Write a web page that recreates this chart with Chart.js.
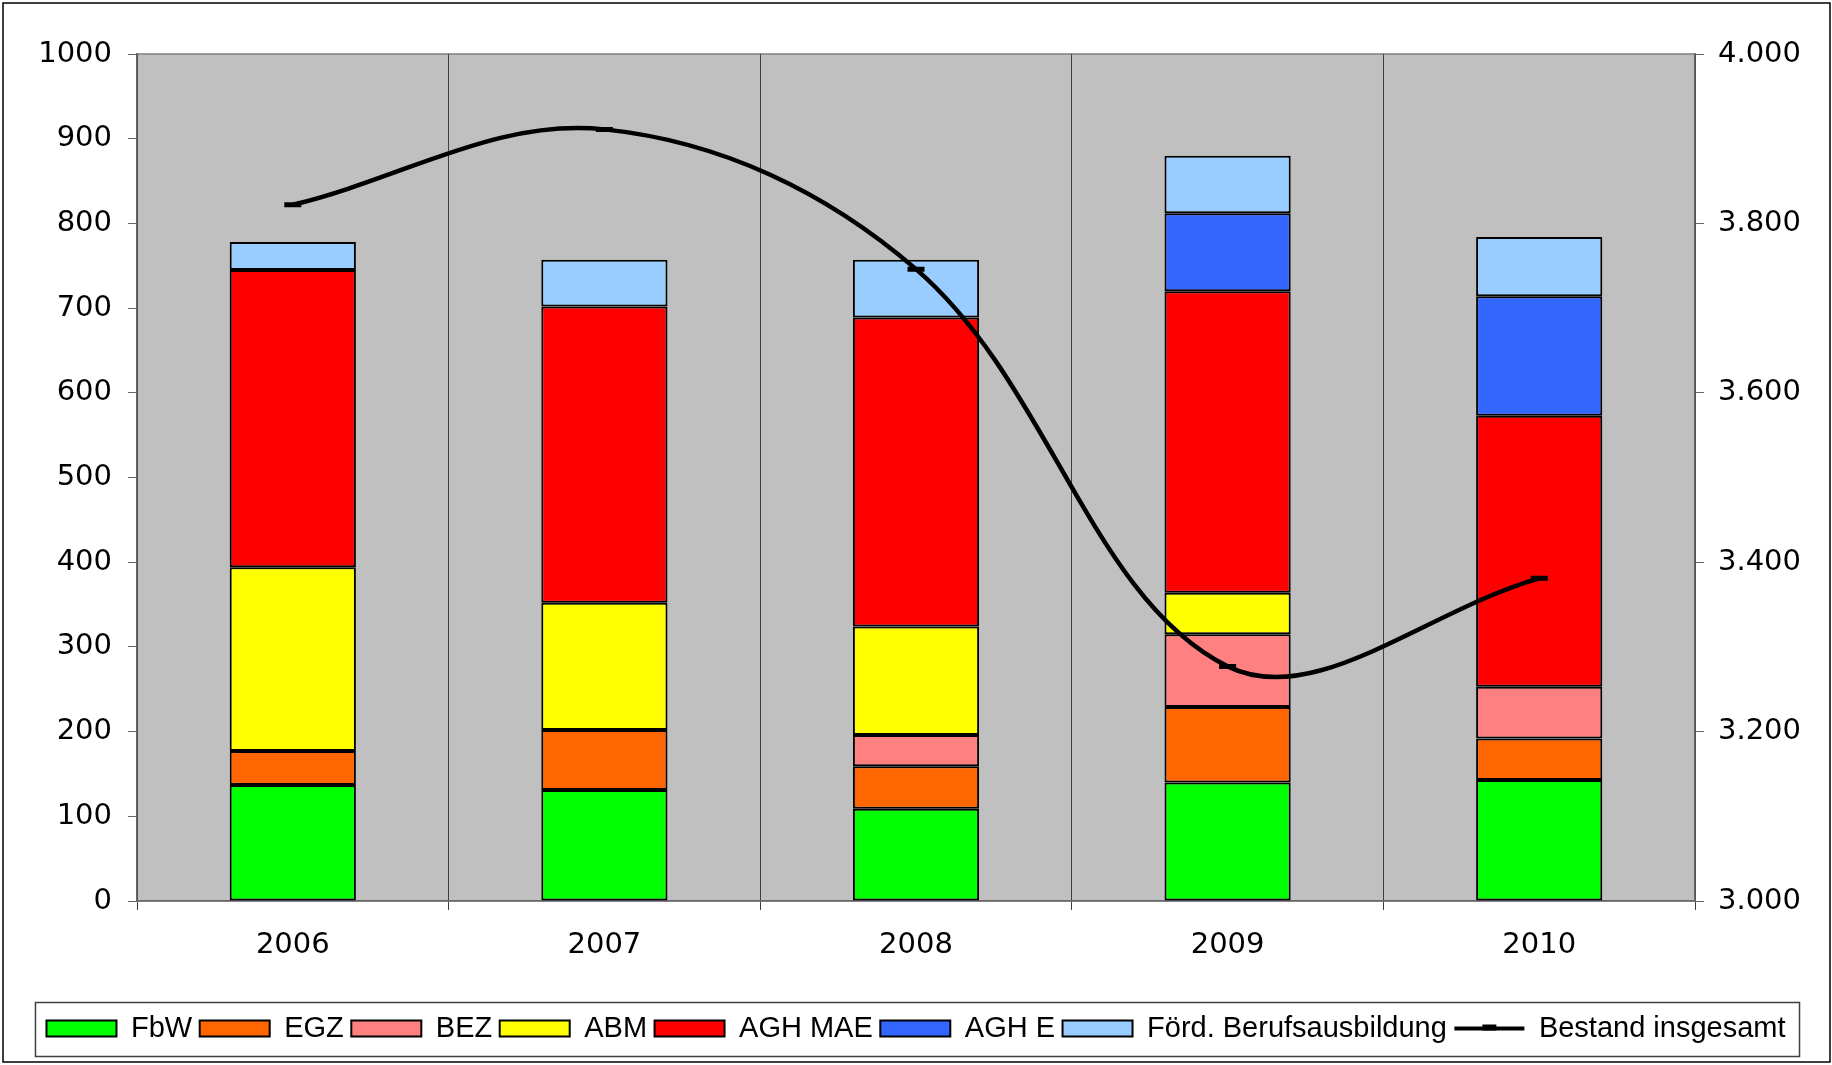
<!DOCTYPE html>
<html>
<head>
<meta charset="utf-8">
<title>Bestand</title>
<script src="https://cdn.jsdelivr.net/npm/chart.js@4/dist/chart.umd.min.js"></script>
<style>
  html, body { margin: 0; padding: 0; background: #fff; }
  canvas { display: block; }
</style>
</head>
<body>
<canvas id="chart" width="1832" height="1065"></canvas>
<script>
// values
var years = ['2006', '2007', '2008', '2009', '2010'];
var fbw = [137, 131, 109, 140, 143];
var egz = [40, 71, 50, 89, 49];
var bez = [0, 0, 37, 86, 61];
var abm = [217, 150, 128, 49, 0];
var aghMae = [351, 350, 365, 356, 320];
var aghE = [0, 0, 0, 92, 141];
var foerd = [33, 55, 68, 68, 70];
var bestand = [3822, 3911, 3746, 3277, 3381];

Chart.defaults.font.family = 'DejaVu Sans';
Chart.defaults.font.size = 29;
Chart.defaults.color = '#000';

function bar(label, data, color) {
  return {
    type: 'bar',
    label: label,
    data: data,
    backgroundColor: color,
    borderColor: '#000',
    borderWidth: 2,
    borderSkipped: false,
    barPercentage: 0.405,
    categoryPercentage: 1,
    yAxisID: 'y',
    order: 1
  };
}

// white page, outer frame, grey plot area, legend frame
var frame = {
  id: 'frame',
  beforeDraw: function (chart) {
    var ctx = chart.ctx, a = chart.chartArea;
    ctx.save();
    ctx.fillStyle = '#fff';
    ctx.fillRect(0, 0, chart.width, chart.height);
    ctx.strokeStyle = '#000';
    ctx.lineWidth = 1.5;
    ctx.strokeRect(3, 3, chart.width - 5, chart.height - 6);
    ctx.fillStyle = '#c0c0c0';
    ctx.fillRect(a.left, a.top, a.right - a.left, a.bottom - a.top);
    ctx.strokeStyle = '#808080';
    ctx.lineWidth = 1.5;
    ctx.strokeRect(a.left, a.top, a.right - a.left, a.bottom - a.top);
    ctx.restore();
  },
  afterDraw: function (chart) {
    var lg = chart.legend, boxes = lg.legendHitBoxes;
    if (!boxes || !boxes.length) return;
    var l = Infinity, r = -Infinity;
    boxes.forEach(function (b) {
      l = Math.min(l, b.left);
      r = Math.max(r, b.left + b.width);
    });
    var cy = boxes[0].top + 14.5;
    var ctx = chart.ctx;
    ctx.save();
    ctx.strokeStyle = '#404040';
    ctx.lineWidth = 1.5;
    ctx.strokeRect(l - 11, cy - 26, r - l + 25, 54);
    // dash marker in the middle of the line symbol
    var last = boxes[boxes.length - 1];
    ctx.strokeStyle = '#000';
    ctx.lineWidth = 6;
    ctx.beginPath();
    ctx.moveTo(last.left + 28, cy - 1);
    ctx.lineTo(last.left + 42, cy - 1);
    ctx.stroke();
    ctx.restore();
  }
};

function dots(v) {
  return String(v).replace(/\B(?=(\d{3})+(?!\d))/g, '.');
}

var ctx = document.getElementById('chart').getContext('2d');
var chart = new Chart(ctx, {
  data: {
    labels: years,
    datasets: [
      bar('FbW', fbw, '#00ff00'),
      bar('EGZ', egz, '#ff6600'),
      bar('BEZ', bez, '#ff8080'),
      bar('ABM', abm, '#ffff00'),
      bar('AGH MAE', aghMae, '#ff0000'),
      bar('AGH E', aghE, '#3366ff'),
      bar('Förd. Berufsausbildung', foerd, '#99ccff'),
      {
        type: 'line',
        label: 'Bestand insgesamt',
        data: bestand,
        yAxisID: 'y1',
        borderColor: '#000',
        backgroundColor: '#000',
        borderWidth: 4.5,
        tension: 0.36,
        pointStyle: 'line',
        pointRadius: 8.5,
        pointBorderWidth: 5,
        pointBorderColor: '#000',
        fill: false,
        order: 0
      }
    ]
  },
  options: {
    responsive: false,
    animation: false,
    devicePixelRatio: 1,
    layout: { padding: { top: 54, left: 0, right: 0, bottom: 12 } },
    plugins: {
      tooltip: { enabled: false },
      legend: {
        position: 'bottom',
        labels: {
          usePointStyle: true,
          pointStyleWidth: 70,
          boxHeight: 16,
          padding: 7.5,
          color: '#000',
          font: { family: 'Liberation Sans', size: 29 },
          sort: function (a, b) { return a.datasetIndex - b.datasetIndex; },
          generateLabels: function (chart) {
            var items = Chart.defaults.plugins.legend.labels.generateLabels(chart);
            items.forEach(function (it) {
              var ds = chart.data.datasets[it.datasetIndex];
              it.pointStyle = ds.type === 'line' ? 'line' : 'rect';
              it.lineWidth = ds.type === 'line' ? 4 : 2;
            });
            return items;
          }
        }
      }
    },
    scales: {
      x: {
        stacked: true,
        offset: true,
        grid: { offset: true, color: '#404040', lineWidth: 1, tickLength: 9, drawOnChartArea: true },
        border: { color: '#666', width: 1.5 },
        ticks: { padding: 18, font: { size: 29 }, color: '#000' },
        afterFit: function (s) { s.height = 105.5; }
      },
      y: {
        stacked: true,
        position: 'left',
        min: 0,
        max: 1000,
        grid: { drawOnChartArea: false, color: '#666', tickLength: 9 },
        border: { color: '#666', width: 1.5 },
        ticks: { stepSize: 100, padding: 16, font: { size: 29 }, color: '#000', callback: function (v) { return String(v); } },
        afterFit: function (s) { s.width = 137; }
      },
      y1: {
        position: 'right',
        min: 3000,
        max: 4000,
        grid: { drawOnChartArea: false, color: '#666', tickLength: 9 },
        border: { color: '#666', width: 1.5 },
        ticks: { stepSize: 200, padding: 14, font: { size: 29 }, color: '#000', callback: function (v) { return dots(v); } },
        afterFit: function (s) { s.width = 137; }
      }
    }
  },
  plugins: [frame]
});
</script>
</body>
</html>
